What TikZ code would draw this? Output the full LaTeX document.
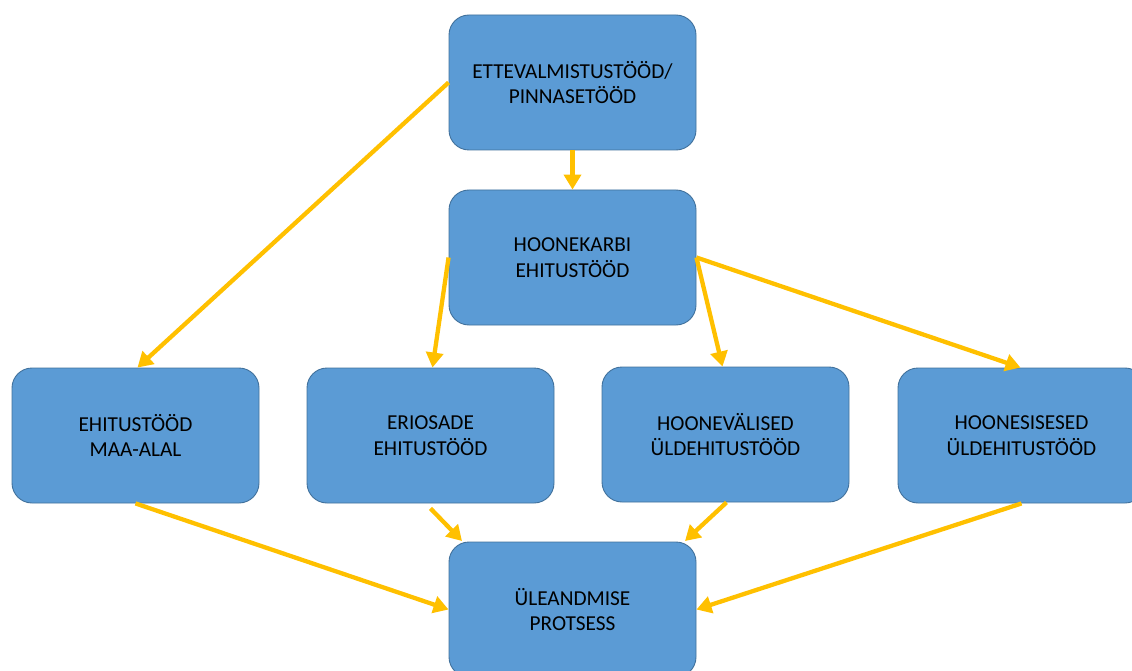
\documentclass[tikz,border=0pt]{standalone}
\usepackage{fontspec}
\setmainfont{Carlito}
\usetikzlibrary{arrows.meta}
\definecolor{boxfill}{HTML}{5B9BD5}
\definecolor{boxline}{HTML}{41719C}
\definecolor{gold}{HTML}{FFC000}
\begin{document}
\begin{tikzpicture}[x=1pt,y=-1pt,
  box/.style={draw=boxline, line width=0.9pt, fill=boxfill, rounded corners=20pt,
    minimum width=247pt, minimum height=135pt, align=center, inner sep=0pt,
    font=\fontsize{21.3}{25.5}\selectfont, text=black},
  conn/.style={draw=gold, line width=4.3pt, -{Triangle[length=15pt,width=17pt]}, shorten >=0pt}]
\useasboundingbox (0,0) rectangle (1132,671);
\clip (0,0) rectangle (1132,671);
\node[box] (top) at (572.5,82.5) {ETTEVALMISTUSTÖÖD/\\PINNASETÖÖD};
\node[box] (hk) at (572.5,257.5) {HOONEKARBI\\EHITUSTÖÖD};
\node[box] (b1) at (135.5,435.5) {EHITUSTÖÖD\\MAA-ALAL};
\node[box] (b2) at (430.5,435.5) {ERIOSADE\\EHITUSTÖÖD};
\node[box] (b3) at (725.5,434.5) {HOONEVÄLISED\\ÜLDEHITUSTÖÖD};
\node[box] (b4) at (1021.5,435.5) {HOONESISESED\\ÜLDEHITUSTÖÖD};
\node[box] (bot) at (572.5,609.5) {ÜLEANDMISE\\PROTSESS};
\coordinate (b2s) at ([yshift=-5pt]b2.south);
\coordinate (botnw) at (462,541);
\coordinate (botne) at (685,541);
\draw[conn] (top.south) -- (hk.north);
\draw[conn] (top.west) -- ([xshift=2pt]b1.north);
\draw[conn] (hk.west) -- ([xshift=2pt]b2.north);
\draw[conn] (hk.east) -- ([xshift=-3pt]b3.north);
\draw[conn] (hk.east) -- ([xshift=-1pt]b4.north);
\draw[conn] (b1.south) -- (bot.west);
\draw[conn] (b2s) -- (botnw);
\draw[conn] ([xshift=1pt]b3.south) -- (botne);
\draw[conn] (b4.south) -- (bot.east);
\end{tikzpicture}
\end{document}
